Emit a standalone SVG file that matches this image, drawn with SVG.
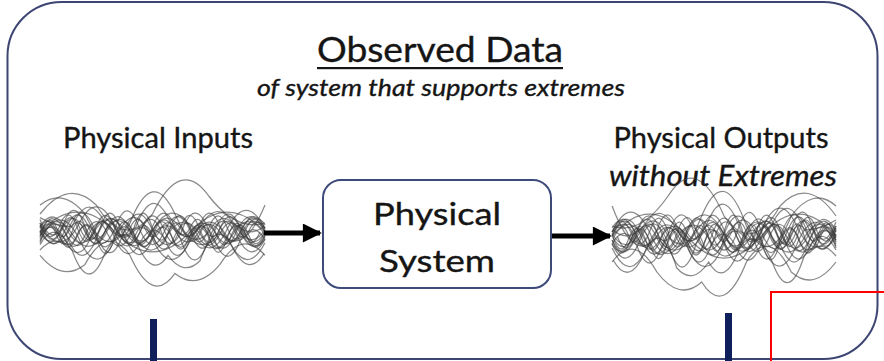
<svg xmlns="http://www.w3.org/2000/svg" xmlns:xlink="http://www.w3.org/1999/xlink" width="884" height="361" viewBox="0 0 884 361">
  <style>
    .txt { font-family: Lato, "Open Sans", "Liberation Sans", sans-serif; fill: #151515; stroke: #151515; stroke-width: 0.35; }
    .ital { font-style: italic; }
    .frame { fill: #ffffff; stroke: #3d4573; stroke-width: 2; }
    .box { fill: #ffffff; stroke: #3d4a7a; stroke-width: 2; }
    .wave { fill: none; stroke: #3a3a3a; stroke-opacity: 0.6; stroke-width: 1.25; vector-effect: non-scaling-stroke; }
    .arrow { stroke: #000; stroke-width: 5; fill: none; }
    .bar { fill: #0f1f5c; }
    .mark { fill: none; stroke: #ff0000; stroke-width: 2; }
  </style>
  <defs>
    <marker id="head" viewBox="0 0 10 10" refX="9" refY="5" markerWidth="4" markerHeight="3.8" orient="auto" markerUnits="strokeWidth">
      <path d="M0,0 L10,5 L0,10 z" fill="#000"/>
    </marker>
    <!-- bundle of noisy signal traces, local coordinates x 0..225, centred on y=0 -->
    <g id="traces">
      <path class="wave" d="M0,0 q12.5,-30 25,0 q12.5,30 25,0 q12.5,-24 25,2 q12.5,28 25,-2 q12.5,-36 25,0 q12.5,30 25,0 q12.5,-20 25,0 q12.5,26 25,0 q12.5,-30 25,0"/>
      <path class="wave" d="M0,-8 q9.4,24 18.75,4 q9.4,-30 18.75,0 q9.4,30 18.75,-2 q9.4,-26 18.75,2 q9.4,20 18.75,0 q9.4,-34 18.75,0 q9.4,28 18.75,-4 q9.4,-22 18.75,4 q9.4,30 18.75,0 q9.4,-28 18.75,0 q9.4,24 18.75,0 q9.4,-20 18.75,-4"/>
      <path class="wave" d="M0,10 q18.75,-44 37.5,-6 q18.75,50 37.5,4 q18.75,-48 37.5,0 q18.75,44 37.5,2 q18.75,-40 37.5,-4 q18.75,46 37.5,6"/>
      <path class="wave" d="M0,-30 q22.5,-20 45,10 q22.5,56 45,10 q22.5,-64 45,-10 q22.5,56 45,20 q22.5,30 45,-30"/>
      <path class="wave" d="M0,4 q11.25,-20 22.5,0 q11.25,24 22.5,0 q11.25,-30 22.5,-2 q11.25,26 22.5,2 q11.25,-18 22.5,0 q11.25,30 22.5,0 q11.25,-28 22.5,0 q11.25,22 22.5,-2 q11.25,-26 22.5,2 q11.25,24 22.5,0"/>
      <path class="wave" d="M0,-4 q7.5,-16 15,0 q7.5,18 15,0 q7.5,-14 15,2 q7.5,20 15,-2 q7.5,-18 15,0 q7.5,16 15,0 q7.5,-20 15,0 q7.5,18 15,2 q7.5,-16 15,-2 q7.5,14 15,0 q7.5,-20 15,0 q7.5,18 15,0 q7.5,-16 15,0 q7.5,20 15,0 q7.5,-14 15,0"/>
      <path class="wave" d="M0,12 q14,-40 28.125,-4 q14,36 28.125,0 q14,-44 28.125,-4 q14,40 28.125,4 q14,-30 28.125,0 q14,46 28.125,0 q14,-38 28.125,-4 q14,34 28.125,4"/>
      <path class="wave" d="M0,20 q16,-20 32,0 q16,50 32,6 q16,-36 32,-16 q16,44 32,16 q16,24 32,6 q16,-50 32,-16 q16,36 32,8"/>
      <path class="wave" d="M0,-6 q12.5,36 25,4 q12.5,-34 25,0 q12.5,30 25,-2 q12.5,-40 25,2 q12.5,32 25,0 q12.5,-30 25,0 q12.5,40 25,0 q12.5,-34 25,-4 q12.5,30 25,6"/>
      <path class="wave" d="M0,6 q9.4,-36 18.75,-4 q9.4,30 18.75,0 q9.4,-20 18.75,4 q9.4,36 18.75,-2 q9.4,-30 18.75,-2 q9.4,26 18.75,4 q9.4,-34 18.75,-2 q9.4,30 18.75,0 q9.4,-24 18.75,0 q9.4,36 18.75,2 q9.4,-30 18.75,-2 q9.4,26 18.75,0"/>
      <path class="wave" d="M0,-20 q28,-40 56.25,-10 q28,50 56.25,10 q28,-64 56.25,-20 q28,40 56.25,30"/>
      <path class="wave" d="M0,-10 q18.75,40 37.5,4 q18.75,-44 37.5,0 q18.75,40 37.5,4 q18.75,-36 37.5,-4 q18.75,46 37.5,2 q18.75,-40 37.5,0"/>
      <path class="wave" d="M0,-14 q11.25,30 22.5,8 q11.25,-36 22.5,0 q11.25,28 22.5,0 q11.25,-24 22.5,4 q11.25,34 22.5,-4 q11.25,-30 22.5,0 q11.25,20 22.5,4 q11.25,-36 22.5,-4 q11.25,30 22.5,2 q11.25,-26 22.5,0"/>
      <path class="wave" d="M0,26 q22.5,30 45,10 q22.5,-46 45,-10 q22.5,56 45,20 q22.5,20 45,-10 q22.5,-40 45,-10"/>
      <path class="wave" d="M0,-2 q14,30 28.125,0 q14,-40 28.125,4 q14,44 28.125,-4 q14,-36 28.125,0 q14,30 28.125,4 q14,-44 28.125,-4 q14,40 28.125,0 q14,-30 28.125,0"/>
      <path class="wave" d="M0,2 q8,-22 16,0 q8,24 16,-2 q8,-26 16,4 q8,20 16,-2 q8,-24 16,0 q8,22 16,0 q8,-18 16,0 q8,26 16,0 q8,-24 16,-2 q8,20 16,2 q8,-22 16,0 q8,24 16,0 q8,-20 16,0 q8,22 16,0"/>
      <path class="wave" d="M0,-16 q16,10 32,10 q16,-40 32,-6 q16,30 32,6 q16,-46 32,-10 q16,36 32,10 q16,-30 32,-6 q16,20 32,6"/>
      <path class="wave" d="M0,14 q12.5,-24 25,-6 q12.5,30 25,0 q12.5,-40 25,0 q12.5,30 25,4 q12.5,-26 25,-4 q12.5,36 25,0 q12.5,-30 25,2 q12.5,34 25,0 q12.5,-24 25,-2"/>
      <path class="wave" d="M0,0 q37.5,-44 75,0 q37.5,44 75,0 q37.5,-44 75,0"/>
      <path class="wave" d="M0,-10 q10,30 20,10 q10,-30 20,-4 q10,26 20,0 q10,-34 20,0 q10,30 20,4 q10,-26 20,-4 q10,34 20,0 q10,-30 20,2 q10,28 20,-2 q10,-26 20,0 q10,30 20,4"/>
      <path class="wave" d="M0,8 q9.4,-24 18.75,-4 q9.4,20 18.75,0 q9.4,-26 18.75,2 q9.4,22 18.75,-2 q9.4,-20 18.75,0 q9.4,24 18.75,2 q9.4,-22 18.75,-2 q9.4,26 18.75,0 q9.4,-20 18.75,2 q9.4,24 18.75,-2 q9.4,-22 18.75,0 q9.4,20 18.75,4"/>
      <path class="wave" d="M0,-6 q14,-24 28.125,6 q14,26 28.125,-4 q14,-22 28.125,2 q14,28 28.125,0 q14,-26 28.125,-2 q14,22 28.125,4 q14,-28 28.125,-4 q14,24 28.125,2"/>
      <path class="wave" d="M0,0 q11.25,22 22.5,-4 q11.25,-24 22.5,4 q11.25,26 22.5,-2 q11.25,-22 22.5,2 q11.25,20 22.5,0 q11.25,-26 22.5,-2 q11.25,24 22.5,4 q11.25,-20 22.5,-2 q11.25,22 22.5,0 q11.25,-24 22.5,0"/>
      <path class="wave" d="M0,4 q16,-30 32,-2 q16,28 32,0 q16,-34 32,4 q16,30 32,-4 q16,-26 32,0 q16,32 32,2 q16,-30 32,-2"/>
    </g>
  </defs>

  <!-- outer frame -->
  <rect class="frame" x="7.5" y="2" width="870" height="357" rx="54" ry="54"/>

  <!-- heading -->
  <g id="heading">
    <text class="txt" x="440" y="62" font-size="35" text-anchor="middle" textLength="246" lengthAdjust="spacingAndGlyphs">Observed Data</text>
    <rect x="317" y="67" width="246" height="2.2" fill="#151515"/>
    <text class="txt ital" x="441" y="96" font-size="23" text-anchor="middle" textLength="368" lengthAdjust="spacingAndGlyphs">of system that supports extremes</text>
  </g>

  <!-- input signals -->
  <g id="inputs">
    <text class="txt" x="158" y="148" font-size="28" text-anchor="middle" textLength="190" lengthAdjust="spacingAndGlyphs">Physical Inputs</text>
    <use xlink:href="#traces" transform="translate(40,232) scale(1,0.9)"/>
  </g>

  <!-- system block -->
  <g id="system">
    <rect class="box" x="323" y="180" width="228" height="108" rx="18" ry="18"/>
    <text class="txt" x="437" y="225" font-size="31" text-anchor="middle" textLength="128" lengthAdjust="spacingAndGlyphs">Physical</text>
    <text class="txt" x="437" y="272" font-size="31" text-anchor="middle" textLength="116" lengthAdjust="spacingAndGlyphs">System</text>
  </g>

  <!-- output signals -->
  <g id="outputs">
    <text class="txt" x="721" y="148" font-size="28" text-anchor="middle" textLength="215" lengthAdjust="spacingAndGlyphs">Physical Outputs</text>
    <text class="txt ital" x="723" y="186" font-size="28" text-anchor="middle" textLength="228" lengthAdjust="spacingAndGlyphs">without Extremes</text>
    <use xlink:href="#traces" transform="translate(836,236) scale(-0.995,1)"/>
  </g>

  <!-- connectors -->
  <g id="connectors">
    <line class="arrow" x1="264" y1="233" x2="320" y2="233" marker-end="url(#head)"/>
    <line class="arrow" x1="552" y1="236" x2="610" y2="236" marker-end="url(#head)"/>
  </g>

  <!-- bottom tick bars -->
  <rect class="bar" x="150" y="319" width="7" height="42"/>
  <rect class="bar" x="725" y="313" width="7" height="48"/>

  <!-- red marker box -->
  <path class="mark" d="M771,361 V292 H884"/>
</svg>
